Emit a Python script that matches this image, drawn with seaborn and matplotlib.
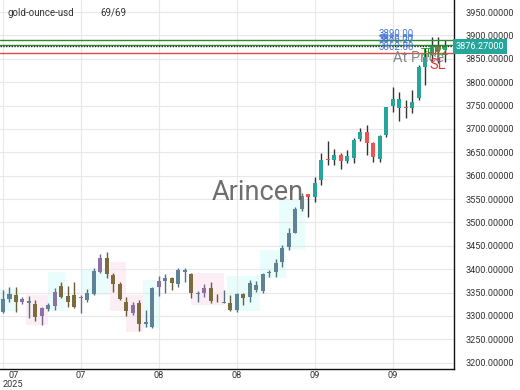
import matplotlib
matplotlib.use("Agg")
import matplotlib.pyplot as plt
import matplotlib.transforms as mtransforms
from matplotlib.patches import Rectangle
import seaborn as sns

# ---------------- data ----------------
body_top = [3336.2, 3346.3, 3344.8, 3335.6, 3331.9, 3324.9, 3316.3, 3323.4, 3351.8, 3364.7,
            3343.3, 3344.8, 3341.1, 3348.4, 3396.1, 3424.6, 3424.6, 3387.6, 3367.7, 3330.5,
            3323.4, 3327.0, 3286.4, 3360.4, 3374.7, 3380.5, 3380.5, 3398.2, 3398.2, 3389.1,
            3349.7, 3360.4, 3360.4, 3330.5, 3329.8, 3328.3, 3346.3, 3346.3, 3369.8, 3366.2,
            3389.1, 3394.6, 3412.6, 3445.9, 3476.7, 3528.1, 3556.5, 3560.1, 3583.7, 3633.5,
            3635.6, 3644.2, 3644.2, 3642.0, 3676.3, 3694.0, 3694.0, 3670.5, 3684.8, 3747.5,
            3763.3, 3763.3, 3746.2, 3758.2, 3833.0, 3854.4, 3877.9, 3877.3, 3876.27]
body_bot = [3309.1, 3335.6, 3330.5, 3330.5, 3327.0, 3298.4, 3299.9, 3314.8, 3321.3, 3341.1,
            3330.5, 3319.8, 3337.7, 3334.1, 3346.3, 3394.6, 3389.1, 3368.3, 3335.6, 3311.2,
            3306.9, 3282.1, 3282.8, 3277.0, 3361.2, 3374.7, 3369.8, 3367.7, 3394.6, 3348.4,
            3346.3, 3348.4, 3331.9, 3329.2, 3327.7, 3312.7, 3312.7, 3337.7, 3339.4, 3355.5,
            3353.3, 3391.2, 3394.6, 3416.0, 3448.1, 3478.0, 3528.7, 3553.7, 3553.7, 3590.7,
            3633.5, 3633.5, 3632.0, 3631.3, 3637.1, 3677.8, 3669.2, 3640.6, 3635.0, 3686.9,
            3749.0, 3744.1, 3744.1, 3744.1, 3765.4, 3833.0, 3858.0, 3864.5, 3868.7]
highs = [3355.5, 3361.9, 3362.5, 3341.1, 3342.6, 3334.1, 3319.8, 3328.3, 3359.1, 3373.2,
         3364.7, 3373.2, 3344.8, 3357.0, 3401.9, 3431.8, 3437.4, 3391.2, 3373.2, 3341.1,
         3330.5, 3334.1, 3312.7, 3362.5, 3386.1, 3389.1, 3383.9, 3403.2, 3401.9, 3391.2,
         3353.3, 3367.7, 3373.2, 3346.3, 3355.5, 3344.8, 3348.4, 3348.4, 3376.9, 3373.6,
         3391.2, 3398.2, 3421.1, 3451.7, 3487.4, 3533.6, 3562.9, 3560.1, 3597.1, 3647.8,
         3674.1, 3656.4, 3647.8, 3654.9, 3679.9, 3702.6, 3708.3, 3672.6, 3686.9, 3747.5,
         3789.0, 3779.6, 3761.8, 3783.2, 3836.7, 3872.4, 3895.9, 3895.9, 3890.1]
lows = [3306.9, 3329.8, 3309.1, 3325.5, 3296.2, 3289.2, 3280.6, 3310.6, 3312.7, 3337.7,
        3319.8, 3316.3, 3305.6, 3330.5, 3344.8, 3391.2, 3381.8, 3351.8, 3334.1, 3300.5,
        3302.0, 3267.8, 3277.0, 3273.6, 3343.3, 3348.4, 3355.5, 3362.5, 3371.9, 3339.0,
        3330.5, 3341.1, 3328.3, 3329.2, 3327.7, 3311.2, 3309.1, 3323.4, 3329.8, 3350.1,
        3348.4, 3383.9, 3383.9, 3404.0, 3441.0, 3476.7, 3524.4, 3511.6, 3544.3, 3580.0,
        3622.8, 3622.8, 3613.6, 3626.4, 3626.4, 3674.1, 3644.2, 3629.8, 3629.8, 3682.7,
        3736.8, 3717.5, 3722.7, 3733.4, 3761.8, 3793.9, 3843.1, 3840.3, 3843.7]
kinds = "bbopbopbpooopbbpoooopobbpbobbobpoobobobbbbbbbbgrttrtrtttrrttttrttttrt"

tick_idx = [0, 12, 24, 36, 48, 60]
tick_labels = ["07\n2025", "07", "08", "08", "09", "09"]

# highlight zones: start idx, end idx, low, high, colour key
zone_start = [-0.5, 3.5, 7.0, 12.0, 16.5, 19.0, 21.5, 29.0, 34.5, 39.5, 42.5]
zone_end = [2.5, 7.0, 9.5, 17.0, 19.0, 21.5, 24.0, 34.0, 39.5, 43.5, 46.5]
zone_low = [3310, 3280, 3310, 3345, 3310, 3266, 3274, 3323, 3310, 3380, 3440]
zone_high = [3357, 3345, 3394, 3398, 3415, 3345, 3377, 3392, 3385, 3440, 3550]
zone_kind = "cpccppcpccc"

level_values = [3890.00, 3880.00, 3876.27, 3862.88]
level_text = ["3890.00", "3880.00", "3876.27", "3862.88"]
last_price = 3876.27
symbol = "gold-ounce-usd"
counter = "69/69"

# ---------------- style ----------------
sns.set_theme(style="white")
plt.rcParams["font.family"] = ["Roboto", "DejaVu Sans"]

body_col = {"b": "#5e8296", "o": "#7b6b3d", "p": "#8b72a2", "g": "#6f8484",
            "t": "#26a69a", "r": "#ef5350"}
wick_col = {"b": "#51707f", "o": "#6a5c35", "p": "#786390", "g": "#5a6a6a",
            "t": "#333333", "r": "#333333"}
zone_col = {"c": "#e9fdfd", "p": "#fdeef5"}

fig = plt.figure(figsize=(5.2, 3.9), dpi=100)
ax = fig.add_axes([0.0, 0.054, 0.873, 0.946])

# zones
for s, e, lo, hi, k in zip(zone_start, zone_end, zone_low, zone_high, zone_kind):
    ax.add_patch(Rectangle((s, lo), e - s, hi - lo, facecolor=zone_col[k],
                           edgecolor="none", zorder=0.5))

# grid
for v in range(3200, 3951, 50):
    ax.axhline(v, color="#e8e8e8", lw=0.8, zorder=0.6)
for t in tick_idx:
    ax.axvline(t, color="#e8e8e8", lw=0.8, zorder=0.6)

# candles
n = len(body_top)
xs = list(range(n))
ax.vlines(xs, lows, highs, colors=[wick_col[k] for k in kinds], lw=1.0, zorder=2)
heights = [max(t - b, 0.9) for t, b in zip(body_top, body_bot)]
ax.bar(xs, heights, bottom=body_bot, width=0.62,
       color=[body_col[k] for k in kinds], edgecolor="none", zorder=3)

# levels
ax.axhline(level_values[0], color="#2e8b2e", lw=1.0, zorder=4)
ax.axhline(level_values[1], color="#2e8b2e", lw=1.0, zorder=4)
ax.axhline(level_values[2], color="#222222", lw=1.0, ls=(0, (1, 1)), zorder=4)
ax.axhline(level_values[3], color="#e04848", lw=1.0, zorder=4)
for v, s in zip(level_values, level_text):
    ax.text(57.8, v + 2.5, s, color="#4a78d8", fontsize=7, va="bottom",
            ha="left", zorder=5)

ax.text(60.0, 3851, "At Price", color="#888888", fontsize=10.5, va="center",
        ha="left", zorder=5)
ax.text(64.3, 3862, "TP1", color="#2e9a2e", fontsize=8.5, va="center", ha="left", zorder=6)
ax.text(65.3, 3866, "TP2", color="#2e9a2e", fontsize=8.5, va="center", ha="left", zorder=6)
ax.text(65.6, 3836, "SL", color="#e03a3a", fontsize=10.5, va="center", ha="left", zorder=6)

# watermark
ax.text(0.568, 0.478, "Arincen", transform=ax.transAxes, fontsize=19.5,
        color="#555555", alpha=0.85, ha="center", va="center", zorder=6)

# header
ax.text(8 / 454, 1 - 13 / 369, symbol, transform=ax.transAxes, fontsize=7,
        color="#333333", va="center", ha="left")
ax.text(100 / 454, 1 - 13 / 369, counter, transform=ax.transAxes, fontsize=7,
        color="#333333", va="center", ha="left")

# axes
ax.set_xlim(-0.46, 69.4)
ax.set_ylim(3186.5, 3975.7)
ax.yaxis.tick_right()
ax.set_yticks(list(range(3200, 3951, 50)))
ax.set_yticklabels([f"{v:.5f}" for v in range(3200, 3951, 50)], fontsize=6.6, color="#333333")
ax.set_xticks(tick_idx)
ax.set_xticklabels(tick_labels, fontsize=6.6, color="#333333", linespacing=0.95)
lbl0 = ax.get_xticklabels()[0]
lbl0.set_ha("left")
lbl0.set_multialignment("center")
ax.tick_params(axis="both", length=0)
ax.tick_params(axis="y", pad=8)
ax.tick_params(axis="x", pad=1.5)
for side in ["left", "top"]:
    ax.spines[side].set_visible(False)
for side in ["right", "bottom"]:
    ax.spines[side].set_color("#111111")
    ax.spines[side].set_linewidth(1.0)

# last price label
tr = mtransforms.blended_transform_factory(ax.transAxes, ax.transData)
ax.text(1.003, last_price, f"{last_price:.5f}", transform=tr, fontsize=6.6,
        color="white", va="center", ha="left", zorder=10, clip_on=False,
        bbox=dict(boxstyle="square,pad=0.3", facecolor="#26a69a", edgecolor="none"))

fig.savefig("out.png", dpi=100, facecolor="white")
